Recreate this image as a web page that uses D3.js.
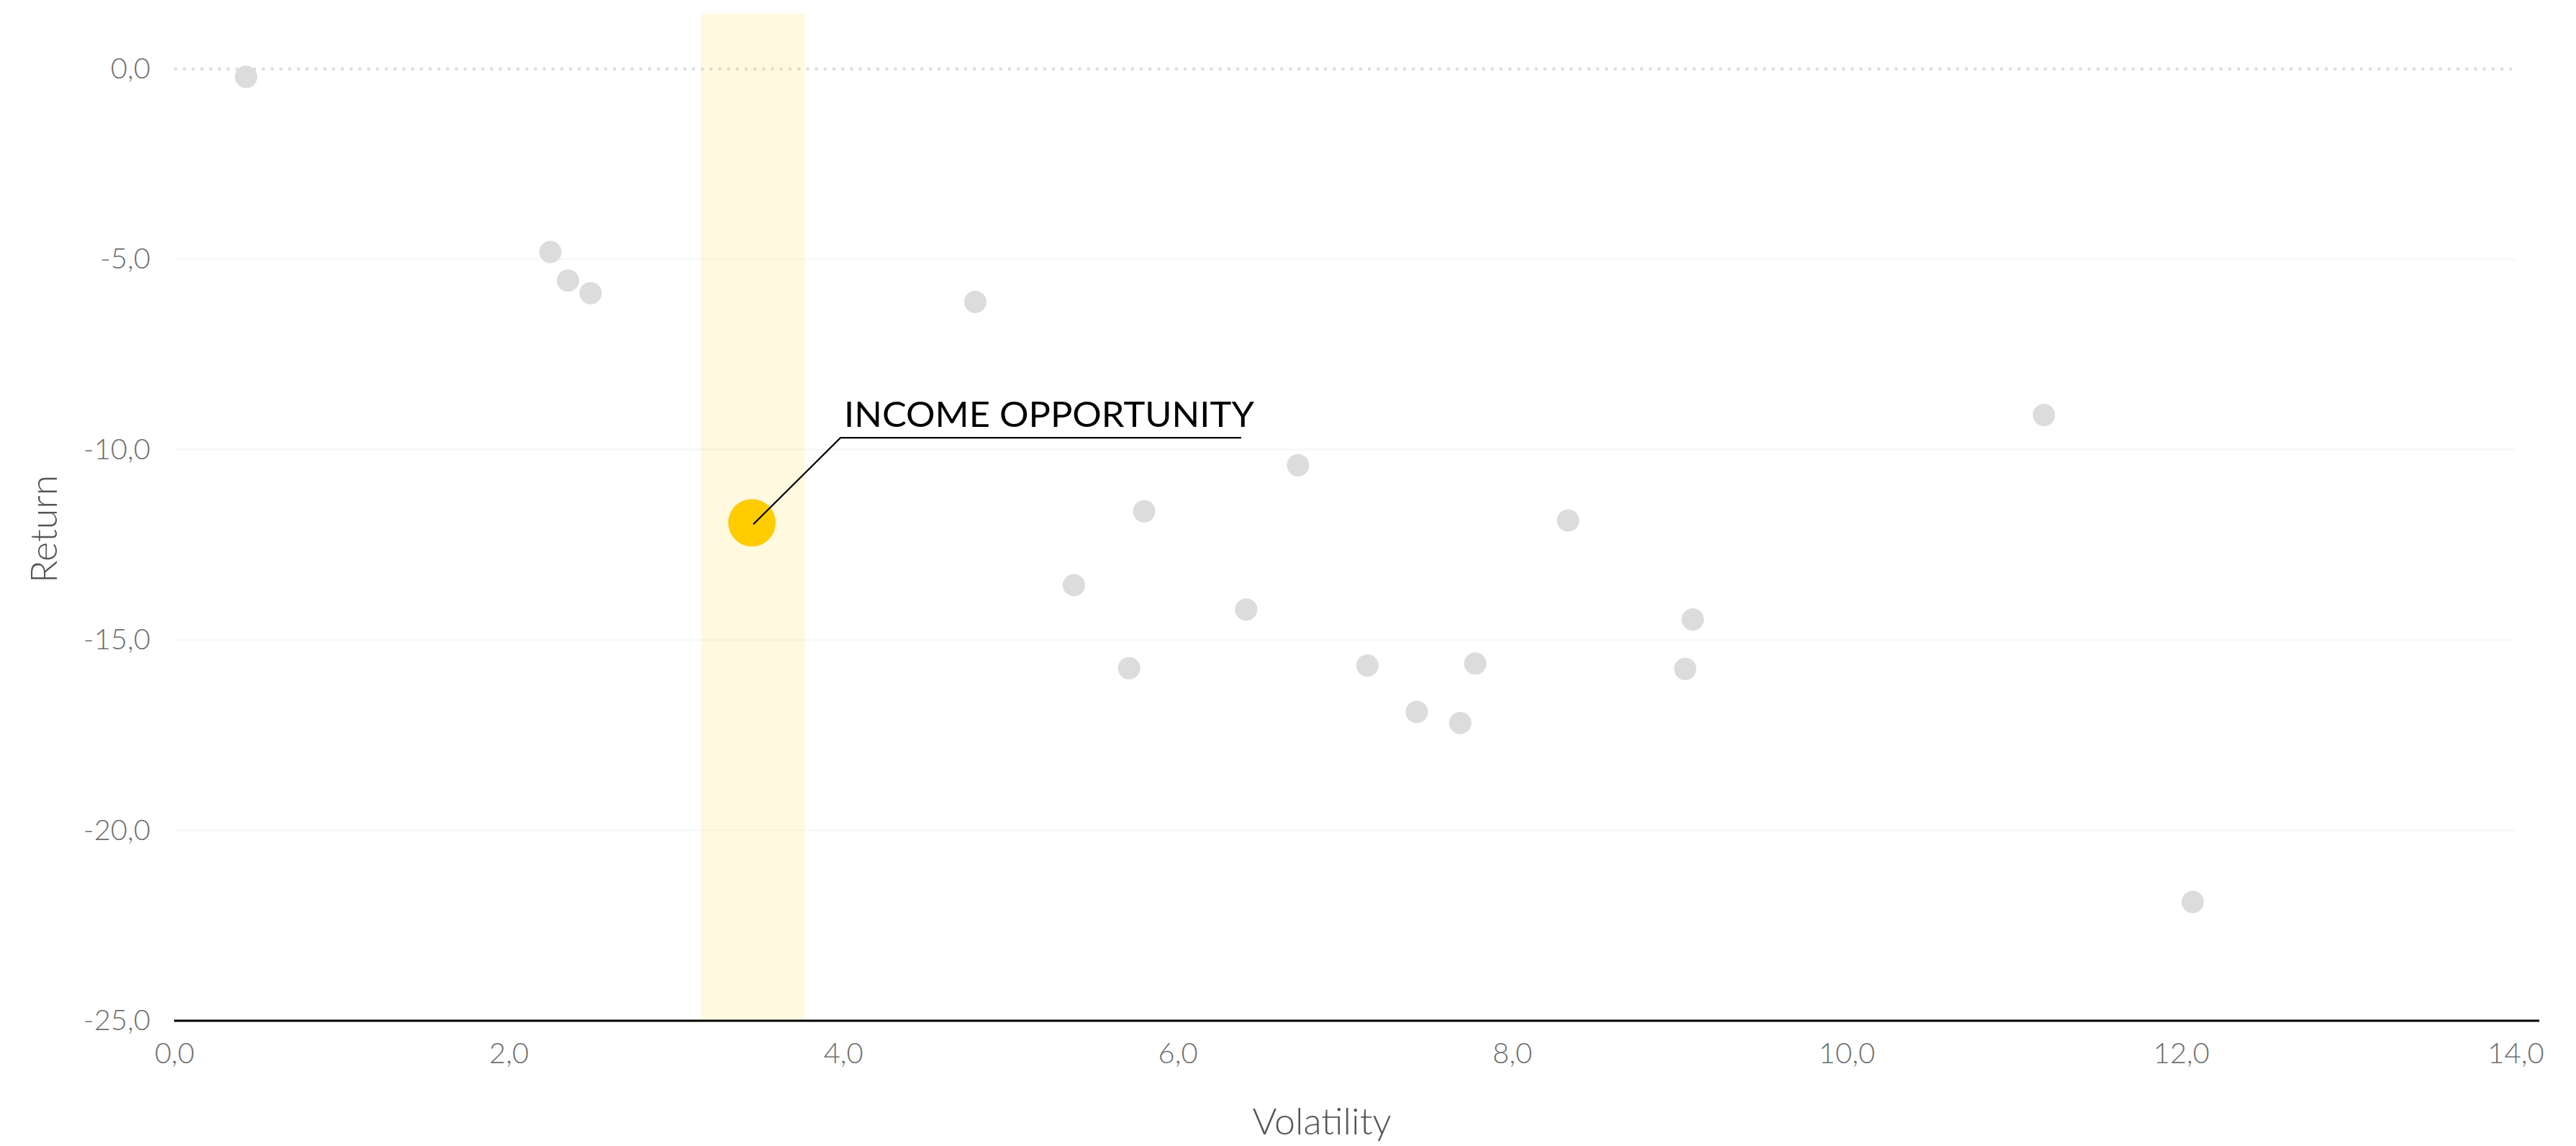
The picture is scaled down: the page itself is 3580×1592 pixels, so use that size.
<!DOCTYPE html>
<html>
<head>
<meta charset="utf-8">
<script src="https://cdn.jsdelivr.net/npm/d3@7"></script>
<style>
  html, body { margin: 0; padding: 0; background: #ffffff; }
  svg { display: block; }
</style>
</head>
<body>
<svg id="chart" width="3580" height="1592"></svg>
<script>
// ---------- data ----------
const pointVolatility = [0.43, 2.25, 2.355, 2.49, 4.79, 11.18, 6.72, 5.80, 8.335, 5.38, 6.41, 9.08, 5.71, 7.135, 7.78, 9.035, 7.43, 7.69, 12.07];
const pointReturn     = [-0.21, -4.81, -5.56, -5.89, -6.12, -9.09, -10.41, -11.62, -11.86, -13.56, -14.20, -14.46, -15.74, -15.67, -15.62, -15.76, -16.89, -17.18, -21.88];
const highlightVolatility = 3.455;
const highlightReturn = -11.92;
const highlightLabel = "INCOME OPPORTUNITY";
const bandRange = [3.15, 3.77];
const xTicks = [0, 2, 4, 6, 8, 10, 12, 14];
const yTicks = [0, -5, -10, -15, -20, -25];
const xTitle = "Volatility";
const yTitle = "Return";

// ---------- setup ----------
const svg = d3.select("#chart");
const font = "Lato, 'Open Sans', sans-serif";
const locale = d3.formatLocale({ decimal: ",", thousands: ".", grouping: [3], currency: ["", ""], minus: "-" });
const fmt = locale.format(".1f");

const x = d3.scaleLinear().domain([0, 14]).range([242, 3496]);
const y = d3.scaleLinear().domain([-25, 1.45]).range([1418, 19]);

// faint gridlines
svg.append("g").selectAll("line")
  .data(yTicks.filter(d => d !== 0 && d !== -25))
  .join("line")
  .attr("x1", x(0)).attr("x2", x(14))
  .attr("y1", d => y(d)).attr("y2", d => y(d))
  .attr("stroke", "#f6f6f6").attr("stroke-width", 2);

// dotted zero line
svg.append("line")
  .attr("x1", x(0) + 2).attr("x2", x(14) + 2)
  .attr("y1", y(0)).attr("y2", y(0))
  .attr("stroke", "#dddddd").attr("stroke-width", 4.6)
  .attr("stroke-linecap", "round")
  .attr("stroke-dasharray", "0 12.2");

// highlight band
svg.append("rect")
  .attr("x", x(bandRange[0]))
  .attr("width", x(bandRange[1]) - x(bandRange[0]))
  .attr("y", y.range()[1])
  .attr("height", y(-25) - y.range()[1])
  .attr("fill", "rgba(255,204,0,0.12)");

// y axis labels
const yAxis = d3.axisLeft(y).tickValues(yTicks).tickFormat(fmt).tickSize(0).tickPadding(0);
const gy = svg.append("g").attr("transform", `translate(${x(0) - 33},0)`).call(yAxis);
gy.select(".domain").remove();
gy.selectAll("text")
  .attr("font-family", font).attr("font-weight", 300)
  .attr("font-size", 40).attr("fill", "#6e6e6e");

// x axis labels
const xAxis = d3.axisBottom(x).tickValues(xTicks).tickFormat(fmt).tickSize(0).tickPadding(0);
const gx = svg.append("g").attr("transform", `translate(0,${y(-25)})`).call(xAxis);
gx.select(".domain").remove();
gx.selectAll("text")
  .attr("font-family", font).attr("font-weight", 300)
  .attr("font-size", 40).attr("fill", "#6e6e6e")
  .attr("dy", null).attr("y", 59);

// axis line
svg.append("line")
  .attr("x1", x(0)).attr("x2", x(14) + 33)
  .attr("y1", y(-25)).attr("y2", y(-25))
  .attr("stroke", "#000").attr("stroke-width", 3);

// axis titles
svg.append("text")
  .attr("x", 1837).attr("y", 1576)
  .attr("text-anchor", "middle")
  .attr("font-family", font).attr("font-weight", 300)
  .attr("font-size", 52).attr("fill", "#555")
  .text(xTitle);

svg.append("text")
  .attr("transform", `translate(79,${(y(0) + y(-25)) / 2 - 22}) rotate(-90)`)
  .attr("text-anchor", "middle")
  .attr("font-family", font).attr("font-weight", 300)
  .attr("font-size", 52).attr("fill", "#555")
  .text(yTitle);

// grey points
const pts = pointVolatility.map((v, i) => ({ v, r: pointReturn[i] }));
svg.append("g").selectAll("circle")
  .data(pts)
  .join("circle")
  .attr("cx", d => x(d.v)).attr("cy", d => y(d.r))
  .attr("r", 15.5)
  .attr("fill", "#dcdcdc");

// highlighted point
const hx = x(highlightVolatility), hy = y(highlightReturn);
svg.append("circle")
  .attr("cx", hx).attr("cy", hy).attr("r", 33)
  .attr("fill", "#FFCC00");

// annotation
const elbow = [hx + 123, hy - 118];
const lineEnd = [hx + 680, hy - 118];
svg.append("path")
  .attr("d", d3.line()([[hx + 2, hy + 2], elbow, lineEnd]))
  .attr("fill", "none").attr("stroke", "#000").attr("stroke-width", 2.2);

svg.append("text")
  .attr("x", elbow[0] + 5).attr("y", elbow[1] - 15)
  .attr("font-family", font).attr("font-weight", 400)
  .attr("font-size", 48).attr("fill", "#000")
  .attr("textLength", 570).attr("lengthAdjust", "spacingAndGlyphs")
  .text(highlightLabel);
</script>
</body>
</html>
